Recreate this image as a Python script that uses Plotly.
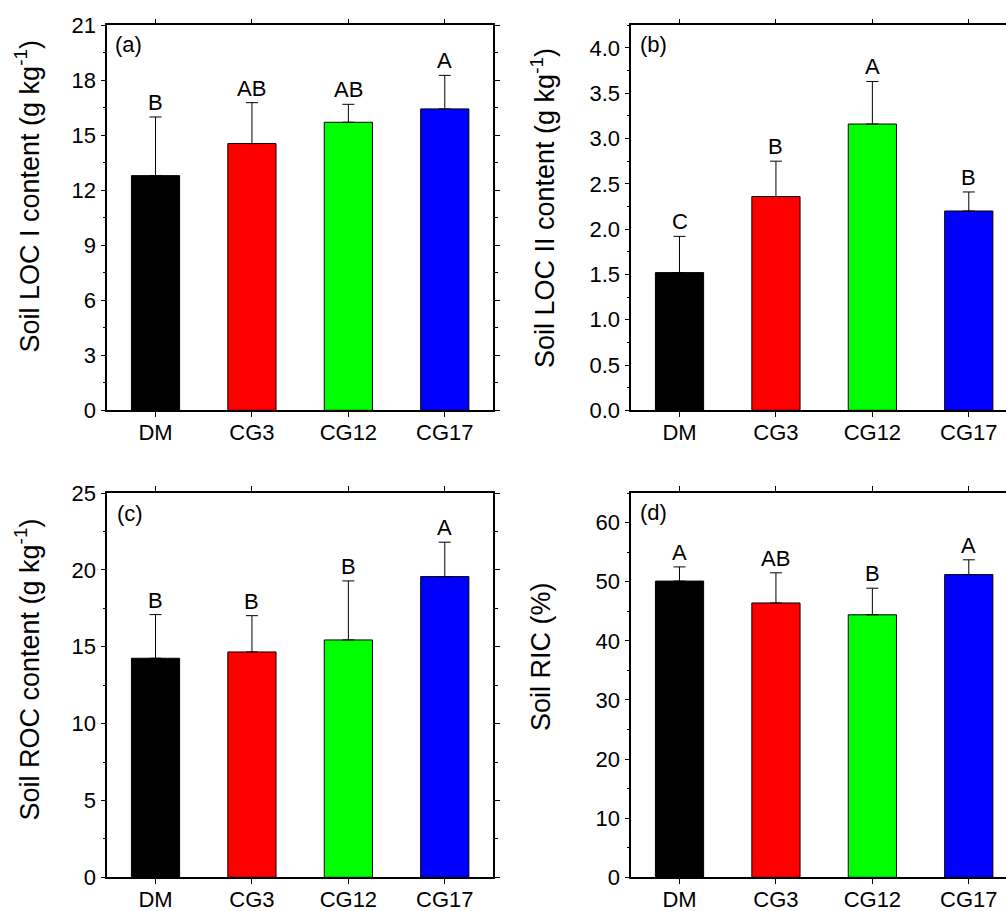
import plotly.graph_objects as go

categories = ["DM", "CG3", "CG12", "CG17"]
colors = ["#000000", "#FF0000", "#00FF00", "#0000FF"]

# (a) Soil LOC I content
loc1_mean = [12.80, 14.55, 15.71, 16.44]
loc1_sd = [3.20, 2.23, 0.98, 1.83]
loc1_letters = ["B", "AB", "AB", "A"]

# (b) Soil LOC II content
loc2_mean = [1.52, 2.36, 3.16, 2.20]
loc2_sd = [0.40, 0.39, 0.47, 0.21]
loc2_letters = ["C", "B", "A", "B"]

# (c) Soil ROC content
roc_mean = [14.25, 14.66, 15.44, 19.56]
roc_sd = [2.84, 2.36, 3.84, 2.24]
roc_letters = ["B", "B", "B", "A"]

# (d) Soil RIC
ric_mean = [50.1, 46.4, 44.4, 51.2]
ric_sd = [2.4, 5.1, 4.5, 2.5]
ric_letters = ["A", "AB", "B", "A"]

panels = [
    dict(mean=loc1_mean, sd=loc1_sd, letters=loc1_letters, label="(a)",
         title="Soil LOC I content (g kg<sup>-1</sup>)", yrange=[0, 21], dtick=3, minor=1.5, fmt=None),
    dict(mean=loc2_mean, sd=loc2_sd, letters=loc2_letters, label="(b)",
         title="Soil LOC II content (g kg<sup>-1</sup>)", yrange=[0, 4.25], dtick=0.5, minor=0.25, fmt=".1f"),
    dict(mean=roc_mean, sd=roc_sd, letters=roc_letters, label="(c)",
         title="Soil ROC content (g kg<sup>-1</sup>)", yrange=[0, 25], dtick=5, minor=2.5, fmt=None),
    dict(mean=ric_mean, sd=ric_sd, letters=ric_letters, label="(d)",
         title="Soil RIC (%)", yrange=[0, 65], dtick=10, minor=5, fmt=None),
]

W, H = 1006, 911
FONT = "Liberation Sans, Arial, sans-serif"

def px_x(v):
    return v / W

def px_y(v):
    return (H - v) / H

xdomains = [[px_x(107.3), px_x(493.0)], [px_x(631.3), 1.0],
            [px_x(107.3), px_x(493.0)], [px_x(631.3), 1.0]]
ydomains = [[px_y(410.3), px_y(25.3)], [px_y(410.3), px_y(25.3)],
            [px_y(877.3), px_y(493.0)], [px_y(877.3), px_y(493.0)]]
cat_px = (493.0 - 107.3) / 4
xranges = [[-0.5, 3.5], [-0.5, -0.5 + (W - 631.3) / cat_px],
           [-0.5, 3.5], [-0.5, -0.5 + (W - 631.3) / cat_px]]

label_pos = [(113, 45), (638, 44), (115, 513), (638, 512)]
title_pos = [(27.5, 197), (543, 208), (27.5, 670), (541, 657)]

fig = go.Figure()
annotations = []
for i, p in enumerate(panels):
    n = "" if i == 0 else str(i + 1)
    xa, ya = "x" + n, "y" + n
    fig.add_trace(go.Bar(
        x=categories, y=p["mean"], xaxis=xa, yaxis=ya,
        marker=dict(color=colors, line=dict(color="#000000", width=1)),
        width=0.5,
        error_y=dict(type="data", array=p["sd"], arrayminus=[0] * len(p["sd"]),
                     symmetric=False, color="#000000", thickness=1, width=6),
        showlegend=False, hoverinfo="skip",
    ))
    axis_common = dict(showline=True, linecolor="#000000", linewidth=1.6,
                       mirror="ticks", ticks="outside", tickcolor="#000000",
                       tickwidth=1, ticklen=5, showgrid=False, zeroline=False,
                       automargin=False,
                       tickfont=dict(family=FONT, size=22, color="#000000"))
    fig.update_layout(**{
        "xaxis" + n: dict(domain=xdomains[i], anchor=ya, type="category",
                          range=xranges[i], ticklabelstandoff=-4, **axis_common),
        "yaxis" + n: dict(domain=ydomains[i], anchor=xa, range=p["yrange"],
                          dtick=p["dtick"], tick0=0,
                          tickformat=p["fmt"] if p["fmt"] else "",
                          minor=dict(dtick=p["minor"], ticks="outside", ticklen=3,
                                     tickcolor="#000000", tickwidth=1, showgrid=False),
                          **axis_common),
    })
    for c, m, s, L in zip(categories, p["mean"], p["sd"], p["letters"]):
        annotations.append(dict(x=c, y=m + s, xref=xa, yref=ya, text=L,
                                showarrow=False, yanchor="bottom", xanchor="center",
                                font=dict(family=FONT, size=22, color="#000000")))
    lx, ly = label_pos[i]
    annotations.append(dict(x=px_x(lx), y=px_y(ly), xref="paper", yref="paper",
                            text=p["label"], showarrow=False, xanchor="left",
                            yanchor="middle",
                            font=dict(family=FONT, size=22, color="#000000")))
    tx, ty = title_pos[i]
    annotations.append(dict(x=px_x(tx), y=px_y(ty), xref="paper", yref="paper",
                            text=p["title"], showarrow=False, textangle=-90,
                            xanchor="center", yanchor="middle",
                            font=dict(family=FONT, size=27, color="#000000")))

fig.update_layout(width=W, height=H,
                  margin=dict(l=0, r=0, t=0, b=0, autoexpand=False),
                  paper_bgcolor="white", plot_bgcolor="white",
                  annotations=annotations, bargap=0.5, hovermode=False)

fig.write_html(
    "out.html",
    config={"displayModeBar": False},
    post_script="document.body.style.margin='0';document.body.style.overflow='hidden';",
)
